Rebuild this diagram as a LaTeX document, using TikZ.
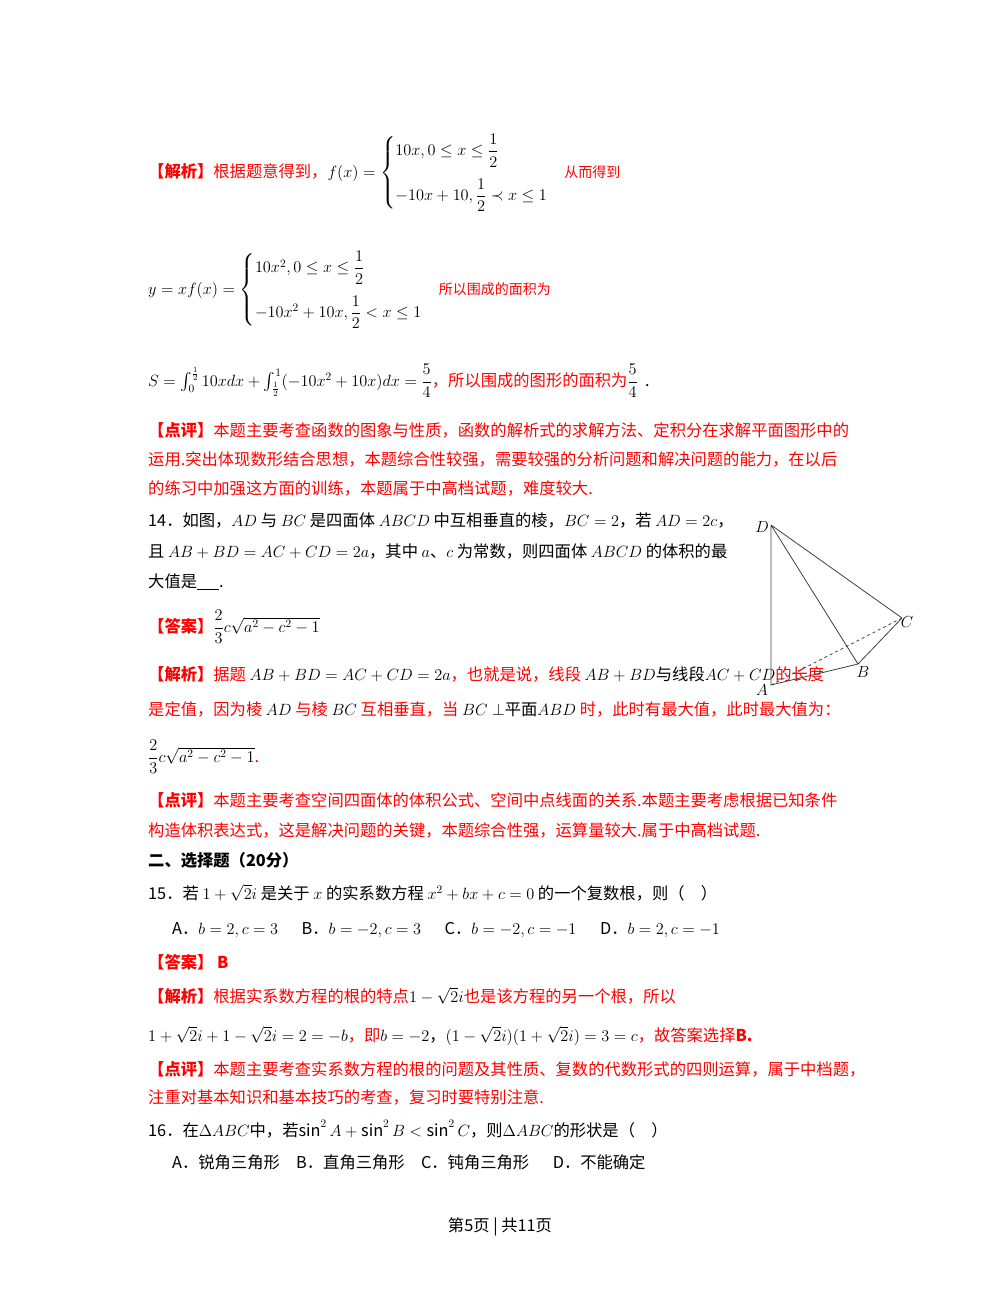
\RequirePackage{fix-cm}
\documentclass[tikz,border=0pt]{standalone}
\usepackage{amsmath}
\usepackage{fontspec}
\setmainfont{Noto Sans CJK SC}
\begin{document}
\begin{tikzpicture}[x=1pt,y=1pt,
  tx/.style={anchor=base west,inner sep=0pt,font=\fontsize{16.3}{19}\selectfont},
  rd/.style={tx,text=red},
  edge/.style={draw=black!75,line width=0.8pt},
  lbl/.style={font=\fontsize{16}{16}\selectfont,inner sep=0pt}]
\useasboundingbox (0,0) rectangle (1000,-1294);
\newcommand{\RB}[1]{\textcolor{red}{\textbf{#1}}}
\newcommand{\SM}[1]{\textcolor{red}{\fontsize{14}{16}\selectfont #1}}
% line 1
\node[tx] (l1) at (148,-177) {\RB{【解析】}\textcolor{red}{根据题意得到，}$f(x)=\begin{cases}10x,0\le x\le\dfrac12\\[16pt] -10x+10,\dfrac12\prec x\le 1\end{cases}$\SM{从而得到}};
\node[tx] (l2) at (148,-294) {$y=xf(x)=\begin{cases}10x^2,0\le x\le\dfrac12\\[16pt] -10x^2+10x,\dfrac12< x\le 1\end{cases}$\SM{所以围成的面积为}};
\node[tx] (l3) at (148,-386) {$S=\int_0^{\frac12}10xdx+\int_{\frac12}^1(-10x^2+10x)dx=\dfrac54$\textcolor{red}{，所以围成的图形的面积为}$\dfrac54$\ \ .};
\node[rd] (l4) at (148,-436) {\RB{【点评】}本题主要考查函数的图象与性质，函数的解析式的求解方法、定积分在求解平面图形中的};
\node[rd] (l5) at (148,-465) {运用.突出体现数形结合思想，本题综合性较强，需要较强的分析问题和解决问题的能力，在以后};
\node[rd] (l6) at (148,-494) {的练习中加强这方面的训练，本题属于中高档试题，难度较大.};
\node[tx] (l7) at (148,-526) {14．如图，$AD$ 与 $BC$ 是四面体 $ABCD$ 中互相垂直的棱，$BC=2$，若 $AD=2c$，};
\node[tx] (l8) at (148,-557) {且 $AB+BD=AC+CD=2a$，其中 $a$、$c$ 为常数，则四面体 $ABCD$ 的体积的最};
\node[tx] (l9) at (148,-587) {大值是\underline{\hspace{22pt}}.};
\node[tx] (l10) at (148,-632) {\RB{【答案】}$\dfrac23c\sqrt{a^2-c^2-1}$};
\node[rd] (l11) at (148,-680) {\RB{【解析】}据题 \textcolor{black}{$AB+BD=AC+CD=2a$}，也就是说，线段 \textcolor{black}{$AB+BD$与线段$AC+CD$}的长度};
\node[rd] (l12) at (148,-715) {是定值，因为棱 \textcolor{black}{$AD$} 与棱 \textcolor{black}{$BC$} 互相垂直，当 \textcolor{black}{$BC\perp$平面$ABD$} 时，此时有最大值，此时最大值为：};
\node[tx] (l13) at (148,-762) {$\dfrac23c\sqrt{a^2-c^2-1}$\textcolor{red}{.}};
\node[rd] (l14) at (148,-806) {\RB{【点评】}本题主要考查空间四面体的体积公式、空间中点线面的关系.本题主要考虑根据已知条件};
\node[rd] (l15) at (148,-836) {构造体积表达式，这是解决问题的关键，本题综合性强，运算量较大.属于中高档试题.};
\node[tx] (l16) at (148,-866) {\textbf{二、选择题（20分）}};
\node[tx] (l17) at (148,-899) {15．若 $1+\sqrt{2}i$ 是关于 $x$ 的实系数方程 $x^2+bx+c=0$ 的一个复数根，则（\quad）};
\node[tx] (l18) at (172,-934) {A．$b=2,c=3$\quad\ \ B．$b=-2,c=3$\quad\ \ C．$b=-2,c=-1$\quad\ \ D．$b=2,c=-1$};
\node[tx] (l19) at (148,-968) {\RB{【答案】\ B}};
\node[rd] (l20) at (148,-1002) {\RB{【解析】}根据实系数方程的根的特点\textcolor{black}{$1-\sqrt{2}i$}也是该方程的另一个根，所以};
\node[tx] (l21) at (148,-1041) {$1+\sqrt{2}i+1-\sqrt{2}i=2=-b$\textcolor{red}{，即}$b=-2$，$(1-\sqrt{2}i)(1+\sqrt{2}i)=3=c$\textcolor{red}{，故答案选择\textbf{B.}}};
\node[rd] (l22) at (148,-1075) {\RB{【点评】}本题主要考查实系数方程的根的问题及其性质、复数的代数形式的四则运算，属于中档题，};
\node[rd] (l23) at (148,-1103) {注重对基本知识和基本技巧的考查，复习时要特别注意.};
\node[tx] (l24) at (148,-1136) {16．在$\Delta ABC$中，若$\sin^2A+\sin^2B<\sin^2C$，则$\Delta ABC$的形状是（\quad）};
\node[tx] (l25) at (172,-1168) {A．锐角三角形\quad B．直角三角形\quad C．钝角三角形\quad\ \ D．不能确定};
\node[tx,anchor=base] (foot) at (500,-1231) {第5页 | 共11页};
% tetrahedron
\coordinate (D) at (771,-525);
\coordinate (A) at (771,-685);
\coordinate (B) at (858,-664);
\coordinate (C) at (902,-618);
\draw[edge] (D)--(A) (D)--(B) (D)--(C) (A)--(B) (B)--(C);
\draw[edge,dashed] (A)--(C);
\node[lbl] (nD) at (762,-527) {$D$};
\node[lbl] (nA) at (762,-690) {$A$};
\node[lbl] (nB) at (863,-672) {$B$};
\node[lbl] (nC) at (907,-622) {$C$};
\end{tikzpicture}
\end{document}
